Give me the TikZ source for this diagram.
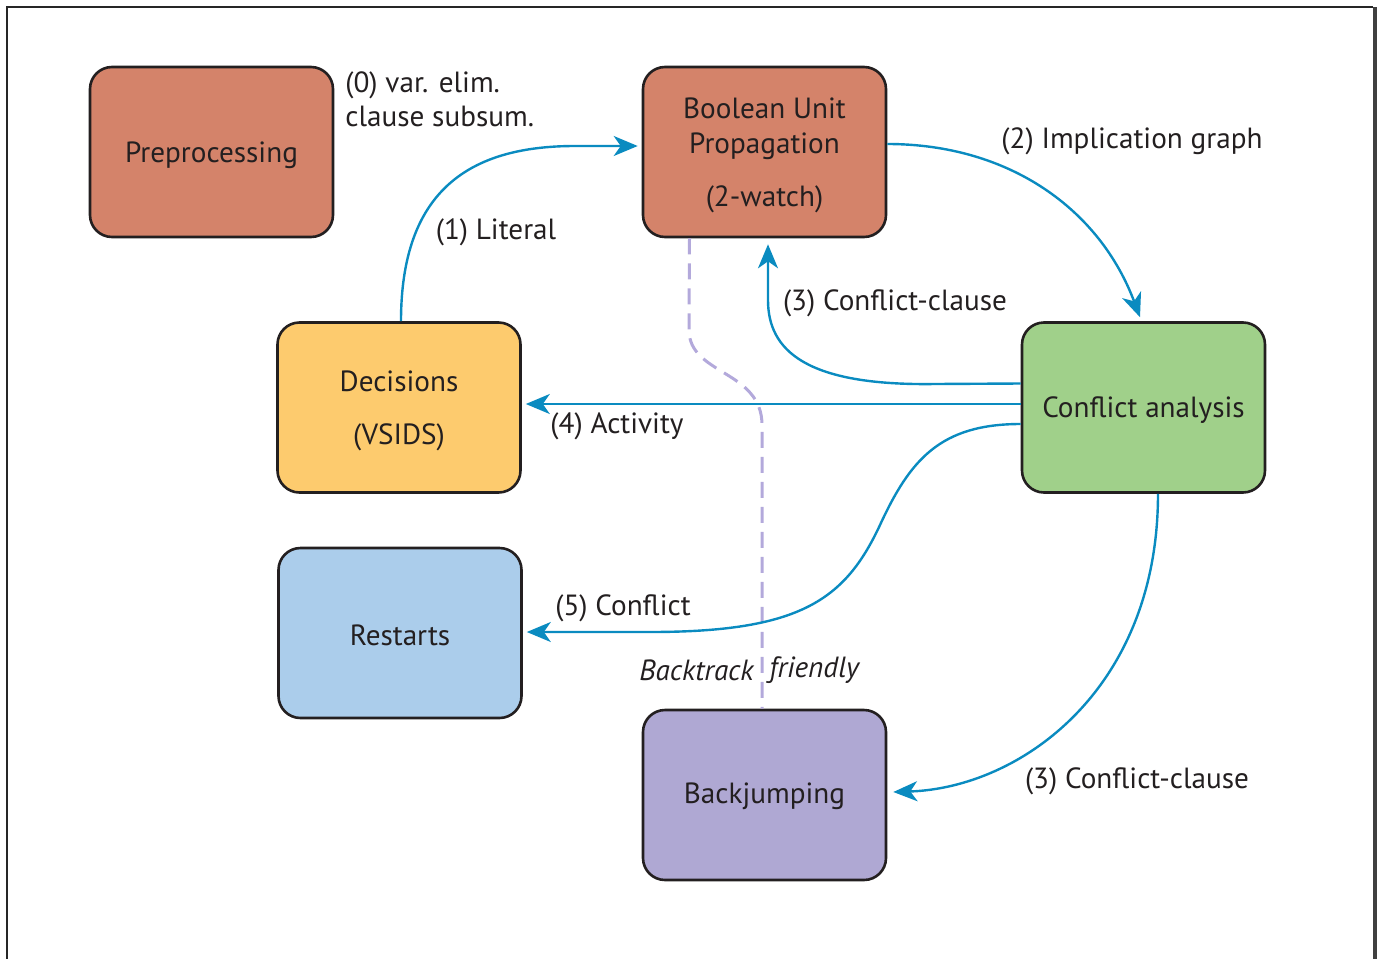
\documentclass[tikz,border=0pt]{standalone}
\usepackage{fontspec}
\setmainfont{PT Sans}
\usetikzlibrary{arrows.meta}
\definecolor{txt}{HTML}{231F20}
\definecolor{salmon}{HTML}{D4836A}
\definecolor{yel}{HTML}{FDCB6E}
\definecolor{grn}{HTML}{A0D08A}
\definecolor{lblue}{HTML}{ABCDEB}
\definecolor{lav}{HTML}{AFA8D3}
\definecolor{conn}{HTML}{0A8BC0}
\definecolor{dash}{HTML}{B3A9DB}
\begin{document}
\begin{tikzpicture}[x=0.5pt,y=-0.5pt,
  box/.style={draw=txt,line width=1.3pt,rounded corners=11pt,minimum width=121.5pt,minimum height=85pt,inner sep=0pt},
  boxtext/.style={align=center,text=txt,inner sep=0pt,font=\fontsize{14.6}{17.5}\selectfont},
  lbl/.style={text=txt,font=\fontsize{14.6}{17}\selectfont,inner sep=0pt},
  connector/.style={draw=conn,line width=1.2pt,-{Stealth[length=12pt,width=10pt,inset=3.5pt]}},
  dashline/.style={draw=dash,line width=1.5pt,dash pattern=on 8pt off 4.5pt}
]
\useasboundingbox (0,0) rectangle (1377,959);
% frame
\draw[line width=0.8pt,black!85] (7,959) -- (7,7) -- (1373,7);
\draw[line width=2pt,black!75] (1374.5,7) -- (1374.5,959);
% boxes
\node[box,fill=salmon] (pre) at (211.5,152) {};
\node[box,fill=salmon] (bup) at (764.5,152) {};
\node[box,fill=yel] (dec) at (399,407.5) {};
\node[box,fill=grn] (ca) at (1143.5,407.5) {};
\node[box,fill=lblue] (rst) at (400,633) {};
\node[box,fill=lav] (bj) at (764.5,795) {};
\node[boxtext] (pret) at ([yshift=-1.5pt]pre.center) {Preprocessing};
\node[boxtext] (bupt) at ([yshift=-1.5pt]bup.center) {Boolean Unit\\Propagation\\[9pt](2-watch)};
\node[boxtext] (dect) at ([yshift=-1.5pt]dec.center) {Decisions\\[9pt](VSIDS)};
\node[boxtext] (cat) at ([yshift=-1.5pt]ca.center) {Conflict analysis};
\node[boxtext] (rstt) at ([yshift=-1pt]rst.center) {Restarts};
\node[boxtext] (bjt) at ([yshift=-0.5pt]bj.center) {Backjumping};
% dashed
\draw[dashline] ([xshift=-37.5pt]bup.south) -- (689,330) .. controls (689,375) and (762,370) .. (762,425) -- ([xshift=-1.25pt]bj.north);
% connectors
\draw[connector] ([xshift=1pt]dec.north) .. controls (401,190) and (470,146) .. (575,146) -- ([yshift=3pt,xshift=-2pt]bup.west);
\draw[connector] ([yshift=4pt]bup.east) .. controls (1010,144) and (1100,210) .. ([xshift=-1.75pt,yshift=2pt]ca.north);
\draw[connector] ([yshift=12pt]ca.west) -- (935,384) .. controls (805,386) and (768,350) .. (768,300) -- ([xshift=1.75pt,yshift=-3pt]bup.south);
\draw[connector] ([yshift=1.75pt]ca.west) -- ([yshift=1.75pt,xshift=2pt]dec.east);
\draw[connector] ([yshift=-8.25pt]ca.west) .. controls (940,424) and (910,460) .. (880,525) .. controls (845,600) and (800,632) .. (650,632) -- ([xshift=2pt,yshift=0.5pt]rst.east);
\draw[connector] ([xshift=7.25pt]ca.south) .. controls (1158,690) and (1020,788) .. ([xshift=3pt,yshift=1.5pt]bj.east);
% labels
\node[lbl,anchor=west,align=left] (l0) at (345,99) {(0) var. elim.\\clause subsum.};
\node[lbl] (l1) at (496,232) {(1) Literal};
\node[lbl] (l2) at (1132,141) {(2) Implication graph};
\node[lbl] (l3a) at (895,303) {(3) Conflict-clause};
\node[lbl] (l4) at (617,426) {(4) Activity};
\node[lbl] (l5) at (623,608) {(5) Conflict};
\node[lbl] (l3b) at (1137,781) {(3) Conflict-clause};
\node[lbl,anchor=east,font=\fontsize{14.6}{17}\selectfont\itshape] (lbt) at (754,670) {Backtrack};
\node[lbl,anchor=west,font=\fontsize{14.6}{17}\selectfont\itshape] (lfr) at (769,670) {friendly};
\end{tikzpicture}
\end{document}
